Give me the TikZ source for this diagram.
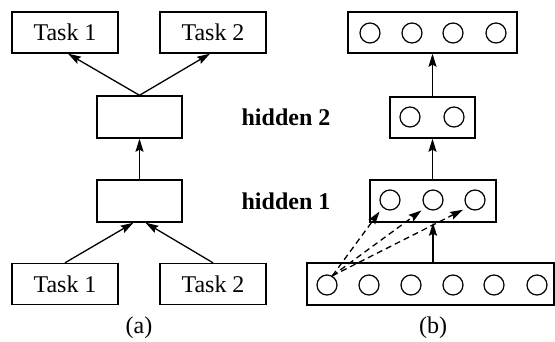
\documentclass[tikz,border=0pt]{standalone}
\usepackage{fontspec}
\setmainfont{Liberation Serif}
\usetikzlibrary{arrows.meta}

\begin{document}
\begin{tikzpicture}[x=1pt,y=-1pt,
  box/.style={draw,line width=1.4pt,inner sep=0pt,minimum height=41pt},
  unit/.style={draw,circle,line width=1.2pt,inner sep=0pt,minimum size=20pt},
  arr/.style={line width=1.3pt,-{Stealth[length=13pt,width=8pt,inset=2pt]}},
  lbl/.style={font=\fontsize{24}{28}\selectfont}]

\useasboundingbox (0,0) rectangle (555,341);

% (a) boxes
\node[box,lbl,minimum width=106pt] (ta1) at (65,32.5) {Task 1};
\node[box,lbl,minimum width=106pt] (ta2) at (213,32.5) {Task 2};
\node[box,minimum width=85pt,minimum height=42pt] (ha2) at (139.5,117) {};
\node[box,minimum width=85pt,minimum height=42pt] (ha1) at (139.5,201) {};
\node[box,lbl,minimum width=106pt] (ia1) at (65,284) {Task 1};
\node[box,lbl,minimum width=106pt] (ia2) at (213,284) {Task 2};

% (a) arrows
\draw[arr] (ha2.north) -- ([xshift=3pt]ta1.south);
\draw[arr] (ha2.north) -- ([xshift=-3pt]ta2.south);
\draw[arr] (ha1.north) -- (ha2.south);
\draw[arr] (ia1.north) -- ([xshift=-6pt]ha1.south);
\draw[arr] (ia2.north) -- ([xshift=6pt]ha1.south);

% Labels
\node[lbl,font=\fontsize{24}{28}\selectfont\bfseries] (lh2) at (286,117) {hidden 2};
\node[lbl,font=\fontsize{24}{28}\selectfont\bfseries] (lh1) at (286,201) {hidden 1};
\node[lbl] (la) at (139,328) {(a)};
\node[lbl] (lb) at (433,328) {(b)};

% (b) boxes
\node[box,minimum width=169pt] (ob) at (432.5,32.5) {};
\node[box,minimum width=85pt] (hb2) at (432.5,117.5) {};
\node[box,minimum width=126pt,minimum height=42pt] (hb1) at (433,201) {};
\node[box,minimum width=247pt,minimum height=42pt] (ib) at (430.5,284) {};

% (b) units
\foreach \x [count=\i] in {370,412,453,496}
  \node[unit] (o\i) at (\x,33) {};
\foreach \x [count=\i] in {410,454}
  \node[unit] (s\i) at (\x,117) {};
\foreach \x [count=\i] in {390,433,475}
  \node[unit] (f\i) at (\x,200) {};
\foreach \x [count=\i] in {327,369,411,453,494,537}
  \node[unit] (c\i) at (\x,285) {};

% (b) arrows
\draw[arr] (ib.north -| hb1.south) -- (hb1.south);
\draw[arr] (hb1.north -| hb2.south) -- (hb2.south);
\draw[arr] (hb2.north) -- (ob.south);
\foreach \i in {1,2,3}
  \draw[arr,dash pattern=on 6pt off 4pt,shorten >=5pt] (c1.60) -- (f\i.south west);

\end{tikzpicture}
\end{document}
